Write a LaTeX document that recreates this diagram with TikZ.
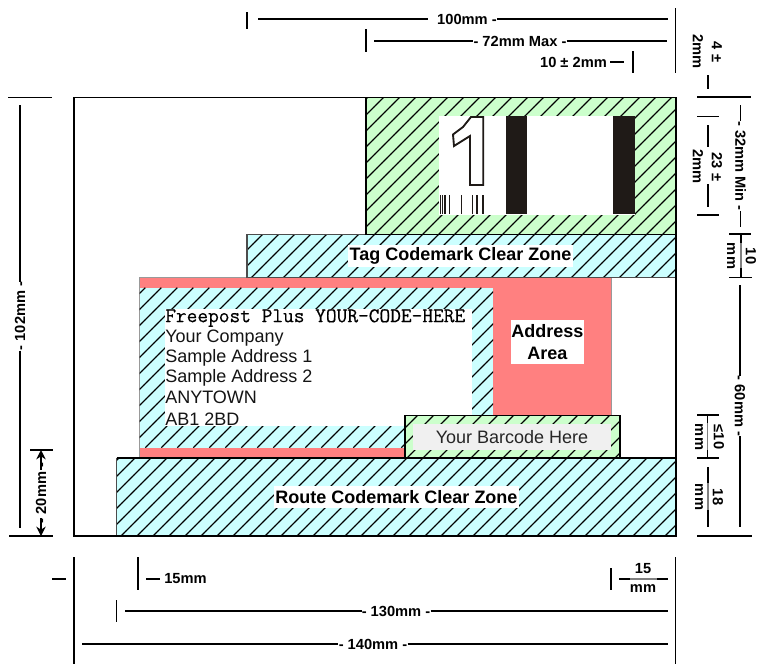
\documentclass[tikz,border=0pt]{standalone}
\usepackage{fontspec}
\setmainfont{Liberation Sans}
\newfontfamily\fpfont{Latin Modern Mono}[FakeBold=0.5]
\usetikzlibrary{arrows.meta}
\definecolor{zgreen}{HTML}{CCFFCC}
\definecolor{zcyan}{HTML}{CCFFFF}
\definecolor{zred}{HTML}{FF8080}
\definecolor{zink}{HTML}{1F1A17}
\newcommand{\hatchbox}[5]{%
  \fill[#5] (#1,#2) rectangle (#3,#4);
  \begin{scope}
    \clip (#1,#2) rectangle (#3,#4);
    \foreach \c in {401,417,...,1217} \draw[hatchline] ({\c-#2},#2) -- ({\c-#4},#4);
  \end{scope}}
\tikzset{
  hatchline/.style={black,line width=0.85pt,dash pattern=on 1.1pt off 0.25pt},
  dimlabel/.style={font=\bfseries\fontsize{11}{12}\selectfont,inner sep=0pt,text=black},
  dimline/.style={black,line width=1pt},
  tick/.style={black,line width=1.1pt},
  fracbar/.style={gray,line width=1.1pt},
  zonelabel/.style={fill=white,font=\bfseries\fontsize{13.5}{15}\selectfont,inner sep=0pt,text=black},
  addr/.style={anchor=west,inner sep=0pt,font=\fontsize{13.5}{15}\selectfont,text=black!92},
  inkbar/.style={fill=zink,draw=none},
  codebar/.style={zink,line width=1pt},
}
\begin{document}
\begin{tikzpicture}[x=0.75pt,y=-0.75pt]
\useasboundingbox (0,0) rectangle (758,664);

% address area
\fill[zred] (139,277.7) rectangle (611.7,458);
\draw[gray!80,line width=0.7pt] (139,458) -- (139,277.7) -- (611.7,277.7) -- (611.7,415);
\hatchbox{139.5}{287.7}{493}{447.7}{zcyan}
\fill[white] (165,309) rectangle (472,425.7);

% tag zone
\hatchbox{247}{234.5}{676}{277.5}{zcyan}
\draw[gray!60!black,line width=0.8pt] (247,277.5) -- (247,234.5) -- (676,234.5) (247,277.5) -- (676,277.5);
% tag codemark
\hatchbox{366}{97.5}{676}{234.5}{zgreen}
\draw[black,line width=0.9pt] (366,97.5) -- (366,234.5) -- (676,234.5);
\fill[white] (439,116) rectangle (635,215);
\fill[inkbar] (505.7,116) rectangle (526.7,214);
\fill[inkbar] (613.3,116) rectangle (635,214);
\draw[zink,line width=1.4pt,fill=white,line join=miter]
  (483.3,117) -- (483.3,185) -- (470,185) -- (470,136) -- (454,146)
  -- (453,134.5) -- (463,127) -- (471,117) -- cycle;
\foreach \bx in {440.3,442.7,445,449.3,461.7,472.3,477,483} \draw[codebar] (\bx,195) -- (\bx,214);

% route zone
\hatchbox{116.5}{458}{676}{536}{zcyan}
\draw[black,line width=0.9pt] (116.5,458) -- (676,458);
\draw[gray!60!black,line width=1pt] (116.5,458) -- (116.5,536);

% barcode
\hatchbox{404.7}{415.3}{619.7}{458}{zgreen}
\draw[black,line width=1.2pt] (404.7,415.3) rectangle (619.7,458);
\node[fill=black!6,minimum width=148.5pt,minimum height=19.5pt,inner sep=0pt,font=\fontsize{13.5}{15}\selectfont,text=black!85] (barcode) at (512,437) {Your Barcode Here};

% frame
\draw[black,line width=1.4pt] (74,97.5) rectangle (676,536);

% texts
\node[inner sep=0pt,anchor=west,font=\fpfont\fontsize{15.6}{17}\selectfont,text=black] (fp) at (165,318) {Freepost Plus YOUR-CODE-HERE};
\node[addr] (a1) at (165,338) {Your Company};
\node[addr] (a2) at (165,358) {Sample Address 1};
\node[addr] (a3) at (165,378) {Sample Address 2};
\node[addr] (a4) at (165,397.5) {ANYTOWN};
\node[addr] (a5) at (165,419) {AB1 2BD};
\node[zonelabel,minimum width=168.75pt,minimum height=16.5pt] (tagz) at (460.5,256) {Tag Codemark Clear Zone};
\node[zonelabel,minimum width=183.75pt,minimum height=16.5pt] (routez) at (396.5,497) {Route Codemark Clear Zone};
\node[zonelabel,align=center,minimum width=54.75pt,minimum height=32.75pt] (addrz) at (547.5,342) {Address\\[1.6pt]Area};

% dimension: top
\node[dimlabel] (d100) at (467,19) {100mm -};
\coordinate (t100a) at (247,12); \coordinate (t100b) at (247,29);
\coordinate (l100a) at (258,19); \coordinate (l100c) at (428,19); \coordinate (l100b) at (668,19);
\draw[tick] (t100a) -- (t100b);
\draw[dimline] (l100a) -- (l100c);
\draw[dimline] (d100) -- (l100b);
\coordinate (rfa) at (675.7,8); \coordinate (rfb) at (675.7,73);
\draw[tick] (rfa) -- (rfb);

\node[dimlabel] (d72) at (520,41) {- 72mm Max -};
\coordinate (t72a) at (366,29); \coordinate (t72b) at (366,52);
\coordinate (l72a) at (374,41); \coordinate (l72b) at (667,41);
\draw[tick] (t72a) -- (t72b);
\draw[dimline] (l72a) -- (d72) (d72) -- (l72b);

\node[dimlabel] (d10) at (573.5,62) {10 ± 2mm};
\coordinate (t10a) at (633,51); \coordinate (t10b) at (633,73); \coordinate (l10) at (624,62);
\draw[tick] (t10a) -- (t10b);
\draw[dimline] (d10.east) ++(3,0) coordinate (l10s) (l10s) -- (l10);

% dimension: right
\node[dimlabel,rotate=-90] (d4a) at (717,52) {4 ±};
\node[dimlabel,rotate=-90] (d4b) at (698,51.5) {2mm};
\coordinate (r4a) at (708,75); \coordinate (r4b) at (708,89);
\draw[dimline] (r4a) -- (r4b);
\coordinate (rt97a) at (697,97); \coordinate (rt97b) at (751,97);
\draw[tick] (rt97a) -- (rt97b);

\coordinate (rt116a) at (697,116.5); \coordinate (rt116b) at (719,116.5);
\coordinate (rt215a) at (697,215); \coordinate (rt215b) at (719,215);
\draw[tick] (rt116a) -- (rt116b); \draw[tick] (rt215a) -- (rt215b);
\node[dimlabel,rotate=-90] (d23a) at (717,167) {23 ±};
\node[dimlabel,rotate=-90] (d23b) at (698,166.5) {2mm};
\coordinate (r23a) at (708,125); \coordinate (r23b) at (708,147);
\coordinate (r23c) at (708,184); \coordinate (r23d) at (708,207);
\draw[dimline] (r23a) -- (r23b); \draw[dimline] (r23c) -- (r23d);

\node[dimlabel,rotate=-90] (d32) at (740.5,166) {- 32mm Min -};
\coordinate (r32a) at (740.5,105); \coordinate (r32b) at (740.5,227);
\draw[dimline] (r32a) -- (d32) (d32) -- (r32b);
\coordinate (rt234a) at (729,234); \coordinate (rt234b) at (751,234);
\draw[tick] (rt234a) -- (rt234b);

\coordinate (f10a) at (741,234); \coordinate (f10b) at (741,277.7);
\draw[fracbar] (f10a) -- (f10b);
\draw[tick] (741,234) -- (741,243); \draw[tick] (741,268) -- (741,277.7);
\node[dimlabel,rotate=-90] (d10a) at (751,256) {10};
\node[dimlabel,rotate=-90] (d10b) at (731,256) {mm};
\coordinate (rt277a) at (729,277.7); \coordinate (rt277b) at (752,277.7);
\draw[tick] (rt277a) -- (rt277b);

\node[dimlabel,rotate=-90] (d60) at (740,406) {- 60mm -};
\coordinate (r60a) at (740,285); \coordinate (r60b) at (740,527);
\draw[dimline] (r60a) -- (d60) (d60) -- (r60b);
\coordinate (rt536a) at (697,536); \coordinate (rt536b) at (752,536);
\draw[tick] (rt536a) -- (rt536b);

\coordinate (rt415a) at (697,415); \coordinate (rt415b) at (719,415);
\coordinate (rt458a) at (697,458); \coordinate (rt458b) at (719,458);
\draw[tick] (rt415a) -- (rt415b); \draw[tick] (rt458a) -- (rt458b);
\coordinate (f12a) at (707.5,415); \coordinate (f12b) at (707.5,458);
\draw[fracbar] (f12a) -- (f12b);
\draw[tick] (707.5,415) -- (707.5,423); \draw[tick] (707.5,450) -- (707.5,458);
\node[dimlabel,rotate=-90] (d12a) at (719,437) {≤10};
\node[dimlabel,rotate=-90] (d12b) at (699,437) {mm};

\coordinate (f18a) at (708,467); \coordinate (f18b) at (708,527);
\draw[fracbar] (f18a) -- (f18b);
\draw[tick] (708,467) -- (708,483); \draw[tick] (708,510) -- (708,527);
\node[dimlabel,rotate=-90] (d18a) at (718,497) {18};
\node[dimlabel,rotate=-90] (d18b) at (699,497) {mm};

% dimension: left
\node[dimlabel,rotate=90] (d102) at (20,316) {- 102mm -};
\coordinate (l102a) at (20,105); \coordinate (l102b) at (20,528);
\draw[dimline] (l102a) -- (d102) (d102) -- (l102b);
\coordinate (lt97a) at (8,97.5); \coordinate (lt97b) at (52,97.5);
\coordinate (lt536a) at (9,536); \coordinate (lt536b) at (53,536);
\draw[tick] (lt97a) -- (lt97b); \draw[tick] (lt536a) -- (lt536b);

\node[dimlabel,rotate=90] (d20) at (41,493) {- 20mm -};
\coordinate (lt450a) at (30,450); \coordinate (lt450b) at (53,450);
\draw[tick] (lt450a) -- (lt450b);
\coordinate (a20t) at (41,450); \coordinate (a20b) at (41,536);
\coordinate (a20c) at (41,470); \coordinate (a20d) at (41,518);
\draw[dimline,-{Stealth[length=7pt,width=7pt]}] (a20c) -- (a20t);
\draw[dimline,-{Stealth[length=7pt,width=7pt]}] (a20d) -- (a20b);

% dimension: bottom
\coordinate (bl1) at (74,557); \coordinate (bl2) at (74,664);
\coordinate (br1) at (675.7,557); \coordinate (br2) at (675.7,664);
\draw[tick] (bl1) -- (bl2); \draw[tick] (br1) -- (br2);
\coordinate (bd1) at (52,579); \coordinate (bd2) at (66,579);
\draw[tick] (bd1) -- (bd2);
\coordinate (b15a) at (138,557); \coordinate (b15b) at (138,590);
\draw[tick] (b15a) -- (b15b);
\coordinate (b15c) at (146,579); \coordinate (b15d) at (160,579);
\draw[tick] (b15c) -- (b15d);
\node[dimlabel,anchor=west] (d15) at (164,579) {15mm};
\coordinate (b15r1) at (611,568); \coordinate (b15r2) at (611,590);
\draw[tick] (b15r1) -- (b15r2);
\coordinate (f15a) at (619,579); \coordinate (f15b) at (668,579);
\draw[fracbar] (f15a) -- (f15b);
\draw[tick] (619,579) -- (630,579); \draw[tick] (657,579) -- (668,579);
\node[dimlabel] (d15a) at (643,569) {15};
\node[dimlabel] (d15b) at (643,589) {mm};

\node[dimlabel] (d130) at (396,611) {- 130mm -};
\coordinate (b130a) at (116.5,600); \coordinate (b130b) at (116.5,622);
\draw[tick] (b130a) -- (b130b);
\coordinate (l130a) at (125,611); \coordinate (l130b) at (668,611);
\draw[dimline] (l130a) -- (d130) (d130) -- (l130b);

\node[dimlabel] (d140) at (373,644) {- 140mm -};
\coordinate (l140a) at (82,644); \coordinate (l140b) at (668,644);
\draw[dimline] (l140a) -- (d140) (d140) -- (l140b);
\end{tikzpicture}
\end{document}
